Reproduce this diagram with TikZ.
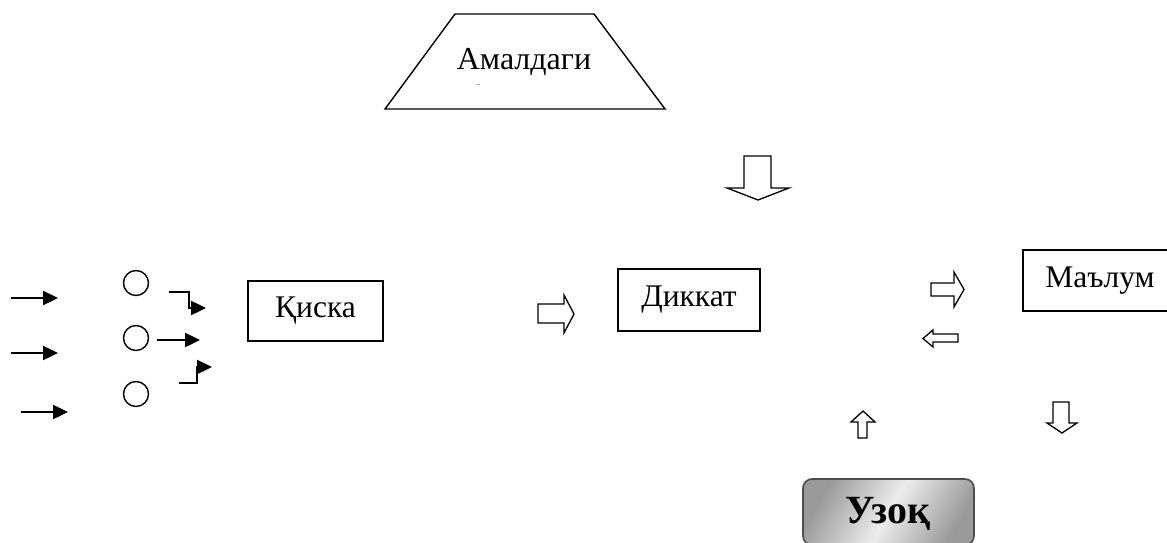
\documentclass[tikz,border=0pt]{standalone}
\usepackage{fontspec}
\setmainfont{Liberation Serif}
\usetikzlibrary{arrows.meta}
\begin{document}
\begin{tikzpicture}[x=1pt,y=-1pt,
  boxnode/.style={draw,line width=1.3pt,inner sep=0pt,font=\fontsize{31.5}{34}\selectfont},
  ring/.style={draw,circle,line width=1.4pt,minimum size=25pt,inner sep=0pt},
  solidarrow/.style={line width=2.4pt,-{Triangle[length=15pt,width=14pt]}},
  hollow/.style={draw,line width=1.3pt,fill=white,line join=miter},
  txt/.style={font=\fontsize{32}{34}\selectfont,inner sep=0pt}]
\useasboundingbox (0,0) rectangle (1167,543);
% trapezoid
\draw[line width=1.4pt,line join=miter] (385,109) -- (455,14) -- (594,14) -- (665,109) -- cycle;
\node[txt] (amal) at (524,62) {Амалдаги};
\draw[gray!60,line width=0.6pt] (476,84) -- (480,84);
% boxes
\node[boxnode,minimum width=135pt,minimum height=60pt] (kiska) at (315.5,311) {Қиска};
\node[boxnode,minimum width=142pt,minimum height=62pt] (dikkat) at (689,300) {Диккат};
\node[boxnode,minimum width=154pt,minimum height=61pt] (malum) at (1100,280.5) {Маълум};
% Узок button
\shade[rounded corners=9pt,left color=gray!80,right color=gray!80,middle color=gray!15,shading angle=60,draw=gray!60!black,line width=1.6pt]
  (803,479) rectangle (974,545);
\node[font=\bfseries\fontsize{40}{42}\selectfont,inner sep=0pt] (uzok) at (888,514) {Узоқ};
% circles
\node[ring] (c1) at (136,283) {};
\node[ring] (c2) at (136,338) {};
\node[ring] (c3) at (136,394) {};
% left solid arrows
\coordinate (a1s) at (11,298); \coordinate (a1e) at (58,298);
\coordinate (a2s) at (11,353); \coordinate (a2e) at (58,353);
\coordinate (a3s) at (21,412); \coordinate (a3e) at (68,412);
\draw[solidarrow] (a1s) -- (a1e);
\draw[solidarrow] (a2s) -- (a2e);
\draw[solidarrow] (a3s) -- (a3e);
% arrow from middle circle
\coordinate (m2s) at (157,340); \coordinate (m2e) at (200,340);
\draw[solidarrow] (m2s) -- (m2e);
% elbow arrows
\coordinate (e1s) at (169,292); \coordinate (e1e) at (206,308);
\draw[line width=2.4pt,line join=miter,-{Triangle[length=15pt,width=14pt]}] (e1s) -- (189,292) -- (189,308) -- (e1e);
\coordinate (e3s) at (179,383); \coordinate (e3e) at (212,367);
\draw[line width=2.4pt,line join=miter,-{Triangle[length=15pt,width=14pt]}] (e3s) -- (197,383) -- (197,367) -- (e3e);
% hollow arrows
\draw[hollow] (744,156) -- (771,156) -- (771,188) -- (789,188) -- (758,200) -- (727,188) -- (744,188) -- cycle;
\draw[hollow] (538,304) -- (564,304) -- (564,295) -- (574,314) -- (564,333) -- (564,323) -- (538,323) -- cycle;
\draw[hollow] (931,283) -- (954,283) -- (954,272) -- (964,289.5) -- (954,307) -- (954,296) -- (931,296) -- cycle;
\draw[hollow] (958,334) -- (933,334) -- (933,330) -- (923,338.5) -- (933,347) -- (933,342) -- (958,342) -- cycle;
\draw[hollow] (858,438) -- (858,422) -- (851,422) -- (863,411) -- (875,422) -- (867,422) -- (867,438) -- cycle;
\draw[hollow] (1053,402) -- (1069,402) -- (1069,423) -- (1077,423) -- (1062,433) -- (1047,423) -- (1053,423) -- cycle;
\end{tikzpicture}
\end{document}
